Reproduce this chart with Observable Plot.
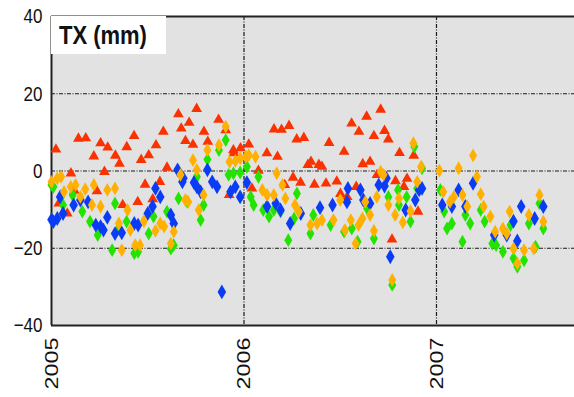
<!DOCTYPE html>
<html>
<head>
<meta charset="utf-8">
<script src="https://cdn.jsdelivr.net/npm/d3@7"></script>
<script src="https://cdn.jsdelivr.net/npm/@observablehq/plot@0.6"></script>
<style>
  html, body { margin: 0; padding: 0; background: white; }
  svg { display: block; }
</style>
</head>
<body>
<div id="chart"></div>
<script>
// ---- data (decimal year, value in mm) ----
const title = "TX (mm)";
const yTicks = [-40, -20, 0, 20, 40];
const xTicks = [2005, 2006, 2007];

const redDates = [2005.023,2005.038,2005.082,2005.101,2005.119,2005.140,2005.178,2005.220,2005.236,2005.255,2005.275,2005.292,2005.332,2005.353,2005.370,2005.391,2005.429,2005.448,2005.466,2005.486,2005.505,2005.526,2005.543,2005.563,2005.581,2005.600,2005.659,2005.674,2005.696,2005.715,2005.735,2005.754,2005.792,2005.812,2005.868,2005.905,2005.923,2005.945,2005.947,2005.982,2006.025,2006.041,2006.075,2006.119,2006.156,2006.174,2006.195,2006.212,2006.234,2006.255,2006.274,2006.294,2006.311,2006.332,2006.348,2006.366,2006.389,2006.405,2006.426,2006.442,2006.482,2006.501,2006.520,2006.536,2006.559,2006.583,2006.597,2006.617,2006.637,2006.655,2006.675,2006.691,2006.710,2006.730,2006.750,2006.769,2006.787,2006.808,2006.831,2006.847,2006.882,2006.904];
const redValues = [5.6,-8.4,-11.0,-0.6,-5.1,8.4,8.5,3.8,-5.2,7.2,-0.2,6.1,4.0,1.9,-8.8,6.2,9.1,-8.0,2.9,-3.5,4.1,-7.3,6.7,-2.8,10.2,0.9,14.7,11.0,7.8,12.5,6.8,16.1,10.2,7.6,13.3,10.6,-6.2,5.4,4.6,5.9,6.9,-4.5,0.1,4.6,10.8,3.7,10.7,-3.6,11.7,-1.7,8.2,-3.0,8.6,1.6,2.4,-3.5,1.6,1.1,-3.2,7.3,-2.7,-5.9,5.0,-6.7,12.3,-4.1,10.2,1.8,14.1,2.4,9.1,-1.0,15.9,10.4,8.2,-17.7,-2.6,4.7,-4.1,-2.0,4.0,-10.5];

const greenDates = [2005.000,2005.010,2005.060,2005.110,2005.160,2005.200,2005.240,2005.315,2005.330,2005.350,2005.390,2005.430,2005.450,2005.505,2005.530,2005.600,2005.620,2005.635,2005.660,2005.705,2005.755,2005.775,2005.790,2005.810,2005.870,2005.905,2005.920,2005.945,2005.980,2006.015,2006.035,2006.050,2006.075,2006.100,2006.130,2006.155,2006.190,2006.230,2006.260,2006.275,2006.345,2006.360,2006.450,2006.520,2006.560,2006.590,2006.640,2006.675,2006.750,2006.770,2006.800,2006.805,2006.845,2006.865,2006.885,2006.900,2006.925,2007.020,2007.040,2007.055,2007.080,2007.135,2007.150,2007.175,2007.230,2007.250,2007.290,2007.310,2007.345,2007.385,2007.400,2007.420,2007.455,2007.480,2007.515,2007.535,2007.555];
const greenValues = [-3.6,-4.1,-8.8,-6.2,-10.5,-13.1,-16.6,-20.5,-8.4,-14.9,-13.1,-21.3,-20.9,-16.2,-11.8,-10.5,-20.1,-19.2,-7.1,-8.0,-1.5,-12.7,-8.8,3.0,5.4,8.0,-1.0,-0.6,-0.4,1.1,-6.7,-8.8,-1.5,-10.1,-11.8,-10.1,-10.5,-17.9,-12.3,-5.8,-16.2,-11.4,-14.0,-15.7,-14.9,-18.3,-9.7,-17.5,-6.7,-29.5,-4.9,-8.8,-6.7,-13.1,6.3,-4.5,0.7,-4.9,-10.5,-14.9,-13.6,-18.3,-11.4,-13.6,-10.1,-13.1,-18.8,-19.2,-20.9,-14.0,-22.6,-24.8,-23.1,-13.6,-19.6,-8.4,-14.9];

const blueDates = [2005.000,2005.010,2005.030,2005.045,2005.060,2005.115,2005.150,2005.190,2005.230,2005.255,2005.270,2005.290,2005.330,2005.365,2005.430,2005.450,2005.500,2005.525,2005.540,2005.565,2005.620,2005.635,2005.655,2005.680,2005.685,2005.740,2005.755,2005.775,2005.810,2005.835,2005.860,2005.885,2005.930,2005.955,2005.980,2006.015,2006.120,2006.165,2006.190,2006.240,2006.295,2006.395,2006.460,2006.535,2006.540,2006.605,2006.620,2006.655,2006.700,2006.730,2006.740,2006.760,2006.840,2006.890,2006.910,2006.925,2007.030,2007.080,2007.115,2007.150,2007.190,2007.300,2007.365,2007.400,2007.420,2007.440,2007.510,2007.555];
const blueValues = [-12.6,-13.1,-12.3,-6.7,-11.0,-8.8,-7.5,-8.0,-14.0,-14.4,-15.3,-12.0,-16.2,-16.0,-13.6,-14.0,-11.0,-9.2,-4.5,-6.7,-11.4,-13.6,0.3,-2.8,-1.9,-3.0,-4.1,-5.4,0.3,-2.8,-4.1,-31.3,-5.4,-4.1,-6.7,-3.0,-9.2,-8.4,-10.1,-13.6,-11.0,-9.5,-8.8,-8.0,-4.5,-4.9,-7.5,-8.4,-3.6,-3.9,-1.9,-22.2,-10.1,-7.5,-4.9,-4.5,-8.8,-9.2,-4.9,-9.2,-3.2,-16.6,-16.6,-13.0,-18.1,-9.2,-12.3,-9.2];

const orangeDates = [2005.000,2005.030,2005.050,2005.065,2005.100,2005.125,2005.150,2005.175,2005.210,2005.220,2005.255,2005.290,2005.330,2005.350,2005.365,2005.395,2005.410,2005.435,2005.460,2005.480,2005.540,2005.565,2005.585,2005.620,2005.635,2005.670,2005.695,2005.710,2005.735,2005.755,2005.765,2005.790,2005.810,2005.870,2005.905,2005.925,2005.955,2005.980,2006.010,2006.025,2006.060,2006.095,2006.120,2006.155,2006.170,2006.200,2006.215,2006.265,2006.285,2006.345,2006.380,2006.405,2006.465,2006.500,2006.525,2006.555,2006.580,2006.595,2006.615,2006.630,2006.655,2006.675,2006.690,2006.710,2006.725,2006.750,2006.770,2006.785,2006.805,2006.825,2006.865,2006.880,2006.900,2006.920,2007.015,2007.035,2007.070,2007.090,2007.115,2007.135,2007.160,2007.190,2007.210,2007.230,2007.245,2007.280,2007.305,2007.345,2007.365,2007.380,2007.400,2007.420,2007.455,2007.480,2007.505,2007.535,2007.555];
const orangeValues = [-2.8,-1.9,-1.5,-5.4,-4.1,-3.6,-6.7,-4.7,-8.8,-3.6,-9.2,-4.9,-4.5,-13.6,-20.5,-10.1,-15.3,-19.2,-19.2,-13.0,-15.5,-13.6,-14.4,-18.8,-15.7,-1.0,-7.5,-8.0,2.8,0.3,-10.1,-6.2,5.4,6.7,11.5,2.4,2.6,3.3,3.7,4.1,3.7,-4.9,-6.2,-6.2,-0.6,-3.6,-7.1,-8.8,-10.5,-14.0,-13.6,-12.7,-12.7,-7.5,-15.3,-12.7,-18.8,-14.0,-12.3,-8.0,-11.4,-15.5,-6.7,-0.2,-1.0,-8.8,-28.2,-11.4,-7.1,-13.3,-10.4,7.2,-2.8,1.1,0.1,-5.4,-8.0,-6.7,0.7,-6.2,-9.2,4.0,-1.5,-6.0,-9.2,-11.8,-15.7,-14.9,-16.2,-10.5,-20.1,-23.9,-20.5,-11.4,-20.1,-6.2,-13.1];

// ---- build tables ----
const rows = (xs, ys) => xs.map((x, i) => ({x, y: ys[i]}));
const red = rows(redDates, redValues);
const green = rows(greenDates, greenValues);
const blue = rows(blueDates, blueValues);
const orange = rows(orangeDates, orangeValues);

const gridStyle = {stroke: "#1a1a1a", strokeOpacity: 1, strokeWidth: 1.2, strokeDasharray: "4,1.5,1,1.5"};
const fontFamily = "'Liberation Sans', Arial, Helvetica, sans-serif";

const chart = Plot.plot({
  width: 574,
  height: 397,
  marginLeft: 51,
  marginRight: 0,
  marginTop: 16,
  marginBottom: 72,
  style: {background: "white", fontFamily, color: "#111"},
  x: {domain: [2005, 2007.717]},
  y: {domain: [-40, 40]},
  marks: [
    Plot.frame({fill: "#e2e2e2", stroke: null}),
    Plot.gridY([-20, 0, 20], gridStyle),
    Plot.gridX([2006, 2007], gridStyle),
    Plot.ruleY([40], {stroke: "#222", strokeWidth: 2}),
    Plot.ruleY([-40], {stroke: "#222", strokeWidth: 2}),
    Plot.ruleX([2005], {stroke: "#222", strokeWidth: 2}),
    Plot.axisY(yTicks, {tickSize: 0, tickPadding: 9, fontSize: 17, label: null, fill: "#111"}),
    Plot.axisX(xTicks, {tickSize: 0, tickPadding: 12, tickRotate: -90, fontSize: 19, label: null, tickFormat: d => String(d), fill: "#111"}),
    Plot.dot(red, {x: "x", y: "y", symbol: "triangle", r: 4.0, fill: "#fa3200", stroke: "none"}),
    Plot.dot(green, {x: "x", y: "y", symbol: "diamond", r: 4.2, fill: "#22e400", stroke: "none"}),
    Plot.dot(blue, {x: "x", y: "y", symbol: "diamond", r: 4.5, fill: "#0a3cf5", stroke: "none"}),
    Plot.dot(orange, {x: "x", y: "y", symbol: "diamond", r: 4.2, fill: "#ffb000", stroke: "none"})
  ]
});

document.getElementById("chart").appendChild(chart);

// stretch tick labels vertically (the reference text is tall)
const svg = d3.select(chart);
svg.selectAll('[aria-label="y-axis tick label"] text').each(function() {
  const t = this.getAttribute("transform") || "";
  this.setAttribute("transform", t + " scale(1,1.24)");
});
svg.selectAll('[aria-label="x-axis tick label"] text').each(function() {
  const t = this.getAttribute("transform") || "";
  this.setAttribute("transform", t + " scale(1.23,1)");
});

// title box in the top-left corner of the panel
const box = svg.append("g");
box.append("rect").attr("x", 51).attr("y", 16).attr("width", 115).attr("height", 38).attr("fill", "white");
box.append("text")
  .attr("transform", "translate(59,44) scale(1,1.15)")
  .attr("text-anchor", "start")
  .attr("font-family", fontFamily)
  .attr("font-weight", "bold")
  .attr("font-size", 22)
  .attr("fill", "#111")
  .text(title);
</script>
</body>
</html>
